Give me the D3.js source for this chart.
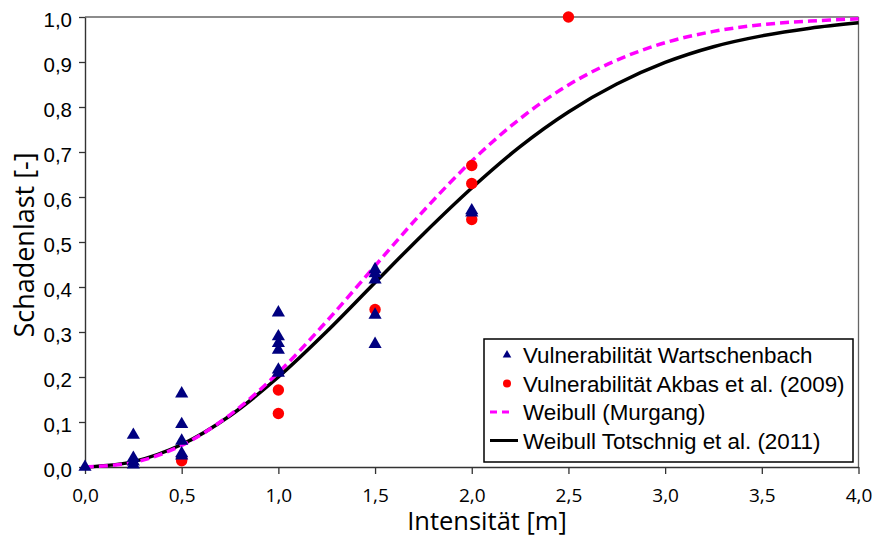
<!DOCTYPE html>
<html><head><meta charset="utf-8">
<script src="https://cdn.jsdelivr.net/npm/d3@7"></script>
<style>html,body{margin:0;padding:0;background:#fff;}</style>
</head><body>
<svg id="chart" width="875" height="537"></svg>
<script>
// ---- data ----
const xTicks = [0, 0.5, 1.0, 1.5, 2.0, 2.5, 3.0, 3.5, 4.0];
const yTicks = [0, 0.1, 0.2, 0.3, 0.4, 0.5, 0.6, 0.7, 0.8, 0.9, 1.0];

const wartX = [0, 0.25, 0.25, 0.25, 0.25, 0.5, 0.5, 0.5, 0.5, 0.5, 1.0, 1.0, 1.0, 1.0, 1.0, 1.0, 1.5, 1.5, 1.5, 1.5, 1.5, 2.0, 2.0];
const wartY = [0, 0.071, 0.02, 0.012, 0.005, 0.163, 0.095, 0.058, 0.03, 0.025, 0.343, 0.29, 0.275, 0.26, 0.216, 0.209, 0.439, 0.43, 0.416, 0.338, 0.273, 0.57, 0.565];

const akbasX = [0.5, 0.5, 1.0, 1.0, 1.5, 2.0, 2.0, 2.0, 2.5];
const akbasY = [0.019, 0.014, 0.171, 0.119, 0.35, 0.67, 0.63, 0.55, 1.0];

const curveX = [0, 0.25, 0.5, 0.75, 1.0, 1.25, 1.5, 1.75, 2.0, 2.25, 2.5, 2.75, 3.0, 3.25, 3.5, 3.75, 4.0];
const murgangY = [0, 0.010, 0.048, 0.116, 0.210, 0.324, 0.447, 0.569, 0.680, 0.774, 0.849, 0.904, 0.943, 0.968, 0.983, 0.991, 0.996];
const totschnigY = [0, 0.012, 0.050, 0.114, 0.200, 0.301, 0.410, 0.518, 0.620, 0.712, 0.789, 0.851, 0.899, 0.934, 0.958, 0.975, 0.987];

const legendLabels = ["Vulnerabilität Wartschenbach", "Vulnerabilität Akbas et al. (2009)", "Weibull (Murgang)", "Weibull Totschnig et al. (2011)"];
const xTitle = "Intensität [m]";
const yTitle = "Schadenlast [-]";

// ---- layout ----
const L = 85, R = 858.5, T = 17, B = 467;
const svg = d3.select("#chart");
const x = d3.scaleLinear().domain([0, 4]).range([L, R]);
const y = d3.scaleLinear().domain([0, 1]).range([B, T]);
const fmt = d => d3.format(".1f")(d).replace(".", ",");

// frame (top/right)
svg.append("line").attr("x1", L).attr("x2", R).attr("y1", T).attr("y2", T)
  .attr("stroke", "#666").attr("stroke-width", 1.3);
svg.append("line").attr("x1", R).attr("x2", R).attr("y1", T).attr("y2", B)
  .attr("stroke", "#666").attr("stroke-width", 1.3);

// axes
const xAxis = svg.append("g").attr("transform", `translate(0,${B})`)
  .call(d3.axisBottom(x).tickValues(xTicks).tickFormat(fmt).tickSize(7).tickSizeOuter(0));
const yAxis = svg.append("g").attr("transform", `translate(${L},0)`)
  .call(d3.axisLeft(y).tickValues(yTicks).tickFormat(fmt).tickSize(6).tickSizeOuter(0));
[xAxis, yAxis].forEach(g => {
  g.select(".domain").attr("stroke", "#333").attr("stroke-width", 1.4);
  g.selectAll(".tick line").attr("stroke", "#333").attr("stroke-width", 1.3);
});
xAxis.selectAll(".tick text").attr("font-family", "'Open Sans', sans-serif").attr("font-size", 19)
  .attr("fill", "#000").attr("dy", null).attr("y", 35);
yAxis.selectAll(".tick text").attr("font-family", "'Liberation Sans', Arial, sans-serif").attr("font-size", 20.5)
  .attr("fill", "#000").attr("x", -13).attr("dy", "0.45em");

// titles
svg.append("text").attr("x", 487).attr("y", 530).attr("text-anchor", "middle")
  .attr("font-family", "'Open Sans', sans-serif").attr("font-size", 25.5).text(xTitle);
svg.append("text").attr("transform", "translate(34,245) rotate(-90)").attr("text-anchor", "middle")
  .attr("font-family", "'Open Sans', sans-serif").attr("font-size", 27).text(yTitle);

// curves
const line = d3.line().x(d => x(d[0])).y(d => y(d[1])).curve(d3.curveCatmullRom);
svg.append("path").datum(curveX.map((v, i) => [v, totschnigY[i]])).attr("d", line)
  .attr("fill", "none").attr("stroke", "#000").attr("stroke-width", 3.5);
svg.append("path").datum(curveX.map((v, i) => [v, murgangY[i]])).attr("d", line)
  .attr("fill", "none").attr("stroke", "#FF00FF").attr("stroke-width", 3.5).attr("stroke-dasharray", "9,5");

// points
svg.append("g").selectAll("circle").data(akbasX.map((v, i) => [v, akbasY[i]])).join("circle")
  .attr("cx", d => x(d[0])).attr("cy", d => y(d[1])).attr("r", 5.7).attr("fill", "#FF0000");
const tri = d3.symbol().type(d3.symbolTriangle).size(75);
svg.append("g").selectAll("path").data(wartX.map((v, i) => [v, wartY[i]])).join("path")
  .attr("transform", d => `translate(${x(d[0])},${y(d[1])})`).attr("d", tri).attr("fill", "#000080");

// legend
const lg = svg.append("g");
lg.append("rect").attr("x", 484).attr("y", 339).attr("width", 369).attr("height", 123)
  .attr("fill", "#fff").attr("stroke", "#000").attr("stroke-width", 1.5);
const rowY = [355, 383.5, 412, 440.5];
lg.append("path").attr("transform", `translate(507,${rowY[0]})`).attr("d", d3.symbol().type(d3.symbolTriangle).size(32)).attr("fill", "#000080");
lg.append("circle").attr("cx", 507).attr("cy", rowY[1]).attr("r", 4).attr("fill", "#FF0000");
lg.append("line").attr("x1", 490).attr("x2", 514).attr("y1", rowY[2]).attr("y2", rowY[2])
  .attr("stroke", "#FF00FF").attr("stroke-width", 3).attr("stroke-dasharray", "7,5");
lg.append("line").attr("x1", 490).attr("x2", 518).attr("y1", rowY[3]).attr("y2", rowY[3])
  .attr("stroke", "#000").attr("stroke-width", 3);
lg.selectAll("text.lab").data(legendLabels).join("text").attr("class", "lab")
  .attr("x", 523).attr("y", (d, i) => rowY[i] + 8)
  .attr("font-family", "'Liberation Sans', Arial, sans-serif").attr("font-size", 22.4).text(d => d);
</script>
</body></html>
